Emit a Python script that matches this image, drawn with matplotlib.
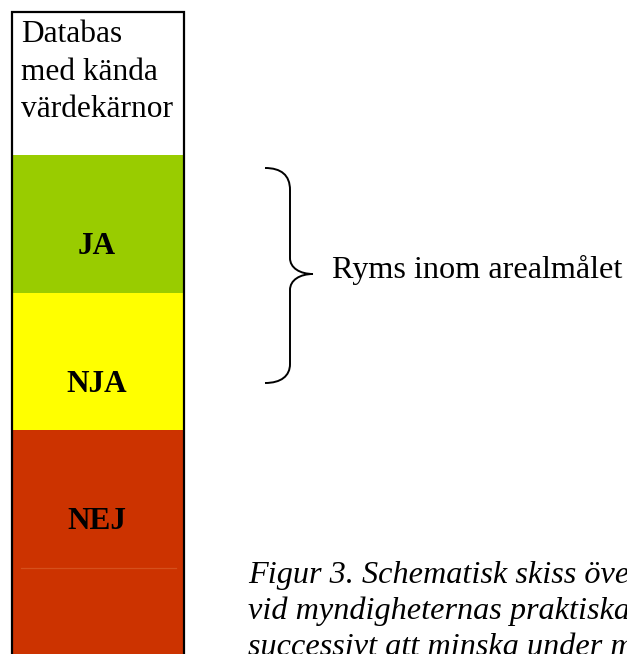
import matplotlib
matplotlib.use("Agg")
import matplotlib.pyplot as plt
from matplotlib.path import Path
from matplotlib.patches import PathPatch

# ---- data ----
segment_names = ["header", "JA", "NJA", "NEJ", "extra"]
segment_labels = ["", "JA", "NJA", "NEJ", ""]
segment_sizes = [143, 138, 137, 138, 138]
segment_colors = ["#FFFFFF", "#99CC00", "#FFFF00", "#CC3300", "#CC3300"]
header_lines = ["Databas", "med kända", "värdekärnor"]
brace_label = "Ryms inom arealmålet"
caption_lines = [
    "Figur 3. Schematisk skiss över",
    "vid myndigheternas praktiska",
    "successivt att minska under m",
]

W, H = 627, 654
fig = plt.figure(figsize=(W / 100, H / 100), dpi=100)
ax = fig.add_axes([0, 0, 1, 1])
ax.set_xlim(0, W)
ax.set_ylim(H, 0)
ax.axis("off")

serif = ["Liberation Serif", "DejaVu Serif"]

bar_left, bar_right, bar_top = 12, 184, 12
bar_center = (bar_left + bar_right) / 2
bar_width = bar_right - bar_left

# stacked segments
bottoms = []
acc = bar_top
for s in segment_sizes:
    bottoms.append(acc)
    acc += s
ax.bar([bar_center] * len(segment_sizes), segment_sizes, width=bar_width,
       bottom=bottoms, color=segment_colors, edgecolor="none", align="center",
       zorder=1)

# faint separator inside the red area
ax.plot([21, 176], [bottoms[4], bottoms[4]], color="#D5501C", lw=0.9, zorder=2)

# border of the column (left, top, right)
ax.plot([bar_left, bar_left, bar_right, bar_right],
        [H + 10, bar_top, bar_top, H + 10], color="black", lw=1.6,
        solid_joinstyle="miter", zorder=3)

# labels in segments
for lab, b in zip(segment_labels, bottoms):
    if lab:
        ax.text(bar_center - 1.5, b + 99, lab, ha="center", va="baseline",
                family=serif, fontweight="bold", fontsize=22.5, zorder=4)

# header text
for i, line in enumerate(header_lines):
    ax.text(21, 42 + i * 37.5, line, ha="left", va="baseline",
            family=serif, fontsize=22.6, zorder=4)

# brace
verts = [
    (265, 168), (281, 168), (290, 175), (290, 190),
    (290, 258),
    (290, 268), (300, 274), (313, 274),
    (300, 274), (290, 280), (290, 290),
    (290, 364),
    (290, 376), (281, 383), (265, 383),
]
codes = [Path.MOVETO, Path.CURVE4, Path.CURVE4, Path.CURVE4,
         Path.LINETO,
         Path.CURVE4, Path.CURVE4, Path.CURVE4,
         Path.CURVE4, Path.CURVE4, Path.CURVE4,
         Path.LINETO,
         Path.CURVE4, Path.CURVE4, Path.CURVE4]
ax.add_patch(PathPatch(Path(verts, codes), facecolor="none",
                       edgecolor="black", lw=1.4, capstyle="butt"))

ax.text(332, 278, brace_label, ha="left", va="baseline", family=serif,
        fontsize=23.2)

# caption
for i, line in enumerate(caption_lines):
    ax.text(248, 583 + i * 36, line, ha="left", va="baseline", family=serif,
            style="italic", fontsize=23.2)

fig.savefig("out.png", dpi=100)
